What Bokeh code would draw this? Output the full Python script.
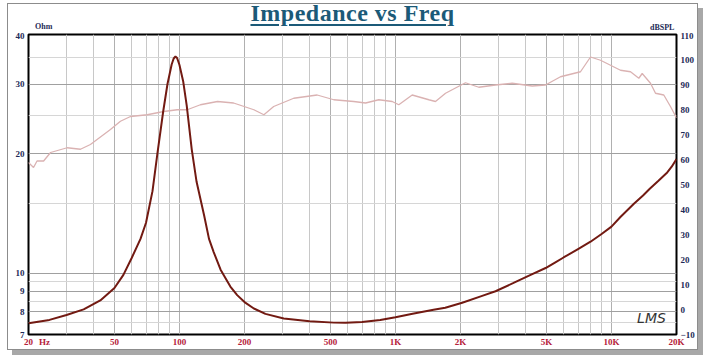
from bokeh.plotting import figure
from bokeh.layouts import column
from bokeh.models import Range1d, LinearScale, LinearAxis, FixedTicker, Label, Div
from bokeh.embed import file_html
from bokeh.resources import INLINE

# ---- axis ticks / labels ----
freq_ticks = [20, 23.7, 50, 100, 200, 500, 1000, 2000, 5000, 10000, 20000]
freq_labels = ["20", "Hz", "50", "100", "200", "500", "1K", "2K", "5K", "10K", "20K"]
grid_major = [20, 50, 100, 200, 500, 1000, 2000, 5000, 10000, 20000]
grid_minor = [30, 40, 60, 70, 80, 90, 300, 400, 600, 700, 800, 900,
              3000, 4000, 6000, 7000, 8000, 9000]
ohm_ticks = [7, 8, 9, 10, 20, 30, 40]
ohm_minor = [7.5, 8.5, 9.5, 15, 25, 35]
spl_ticks = [-10, 0, 10, 20, 30, 40, 50, 60, 70, 80, 90, 100, 110]

# ---- impedance curve (Ohm) ----
imp_freq = [20, 25, 30, 36, 43, 50, 55, 60, 66, 70, 75, 79, 84, 88, 92, 94, 95.8,
            97.5, 100, 104, 108, 114, 120, 130, 137, 144, 155, 172, 185, 200, 221,
            250, 304, 400, 518, 587, 700, 850, 1000, 1200, 1500, 1700, 2037, 2500,
            2905, 3500, 4200, 4955, 5500, 6000, 7000, 8000, 9000, 10000, 11000,
            12700, 14000, 15000, 16500, 18120, 19000, 20000]
imp_ohm = [7.47, 7.62, 7.84, 8.10, 8.53, 9.17, 9.90, 10.9, 12.2, 13.4, 16.1, 20.0,
           25.5, 30.0, 33.6, 34.8, 35.2, 34.9, 33.5, 30.5, 26.5, 20.5, 17.0, 14.0,
           12.2, 11.3, 10.2, 9.25, 8.8, 8.45, 8.14, 7.89, 7.68, 7.56, 7.50, 7.49,
           7.53, 7.62, 7.74, 7.90, 8.08, 8.18, 8.42, 8.75, 9.00, 9.43, 9.88, 10.3,
           10.65, 10.95, 11.5, 12.0, 12.55, 13.1, 13.85, 14.96, 15.7, 16.3, 17.1,
           17.95, 18.56, 19.4]

# ---- SPL curve (dB) ----
spl_freq = [20, 21.1, 21.9, 23.5, 25.3, 30.2, 34.8, 38.7, 47.9, 53.3, 59.3, 70.9,
            84.6, 97.6, 108.6, 125, 150, 178, 221, 246, 273, 338, 434, 518, 641,
            727, 837, 966, 1036, 1195, 1427, 1532, 1705, 2109, 2431, 2904, 3471,
            4295, 4949, 5808, 7188, 7997, 8896, 9897, 11010, 12249, 13385, 13876,
            15158, 15990, 17467, 18757, 20000]
spl_db = [58.8, 56.8, 59.4, 59.4, 62.8, 64.7, 64.1, 66.0, 72.0, 75.3, 77.2, 77.9,
          79.2, 79.9, 79.9, 81.9, 83.2, 82.6, 79.9, 77.9, 81.2, 84.5, 85.8, 83.9,
          83.2, 82.6, 83.9, 83.2, 81.9, 85.8, 83.9, 83.2, 86.5, 90.7, 88.9, 89.8,
          90.5, 89.4, 89.8, 93.1, 95.1, 101.0, 99.7, 97.7, 95.7, 95.1, 92.5, 94.4,
          90.5, 86.5, 85.8, 81.2, 76.6]

navy = "#1d2b57"
crimson = "#b52039"
title_col = "#1b5a78"
tick_font = "Liberation Sans Narrow"

header_html = (
    '<div style="position:relative;width:689px;height:28px;background:white;">'
    '<div style="position:absolute;left:0;top:-3px;width:689px;text-align:center;'
    'font-family:\'Liberation Serif\';font-weight:bold;font-size:24px;line-height:24px;'
    'letter-spacing:0.5px;color:%s;text-decoration:underline;'
    'text-decoration-thickness:2px;text-underline-offset:3px;">Impedance vs Freq</div>'
    '<div style="position:absolute;left:27px;top:19px;font-family:\'%s\';'
    'font-weight:bold;font-size:8px;line-height:8px;color:%s;">Ohm</div>'
    '<div style="position:absolute;left:642px;top:20px;font-family:\'%s\';'
    'font-weight:bold;font-size:8px;line-height:8px;color:%s;">dBSPL</div>'
    '</div>' % (title_col, tick_font, navy, tick_font, navy)
)
header = Div(text=header_html, width=689, height=28, margin=0)

p = figure(width=689, height=317, x_axis_type="log", y_axis_type="log",
           x_range=Range1d(20, 20000), y_range=Range1d(7, 40),
           output_backend="svg", toolbar_location=None, title=None,
           min_border_left=20, min_border_right=21, min_border_top=2,
           min_border_bottom=12, margin=0)
p.extra_y_ranges = {"spl": Range1d(-10, 110)}
p.extra_y_scales = {"spl": LinearScale()}
p.background_fill_color = "white"
p.border_fill_color = "white"
p.outline_line_color = "black"
p.outline_line_width = 2

xa = p.xaxis[0]
xa.ticker = FixedTicker(ticks=freq_ticks)
xa.major_label_overrides = {t: l for t, l in zip(freq_ticks, freq_labels)}
ya = p.yaxis[0]
ya.ticker = FixedTicker(ticks=ohm_ticks, minor_ticks=ohm_minor)
ya.major_label_overrides = {t: str(t) for t in ohm_ticks}
ra = LinearAxis(y_range_name="spl", ticker=FixedTicker(ticks=spl_ticks))
p.add_layout(ra, "right")

for ax, col in ((xa, crimson), (ya, navy), (ra, navy)):
    ax.axis_line_color = None
    ax.major_tick_line_color = None
    ax.minor_tick_line_color = None
    ax.major_tick_out = 0
    ax.major_tick_in = 0
    ax.minor_tick_out = 0
    ax.minor_tick_in = 0
    ax.major_label_text_color = col
    ax.major_label_text_font = tick_font
    ax.major_label_text_font_style = "bold"
    ax.major_label_text_font_size = "9px"
    ax.major_label_standoff = 3
ya.major_label_standoff = 4
ra.major_label_standoff = 4
xa.major_label_standoff = 2

p.xgrid.axis = None
p.xgrid.ticker = FixedTicker(ticks=grid_major, minor_ticks=grid_minor)
p.xgrid.grid_line_color = "#b0b0b0"
p.xgrid.minor_grid_line_color = "#c8c8c8"
p.ygrid.grid_line_color = "#a0a0a0"
p.ygrid.minor_grid_line_color = "#d6d6d6"

p.line(spl_freq, spl_db, y_range_name="spl", line_color="#dab2b2", line_width=1.3)
p.line(imp_freq, imp_ohm, line_color="#721a12", line_width=2)

p.add_layout(Label(x=623, y=17, x_units="screen", y_units="screen", text="LMS",
                   text_align="center", text_baseline="middle",
                   text_font="DejaVu Sans", text_font_style="italic",
                   text_font_size="14px", text_color="#333333"))

layout = column(header, p, spacing=0, margin=0)
layout.styles = {"margin-left": "7px", "margin-top": "3px",
                 "border": "1px solid #8c8c8c", "background-color": "white",
                 "box-shadow": "5px 5px 0px #a8a8a8"}

open("out.html", "w").write(file_html(layout, INLINE))
